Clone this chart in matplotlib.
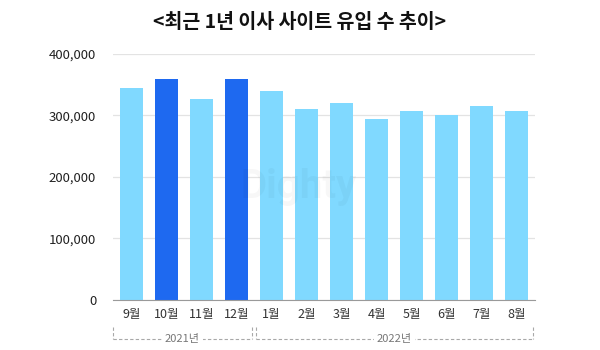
import matplotlib
matplotlib.use("Agg")
import matplotlib.pyplot as plt
from matplotlib.ticker import FuncFormatter

plt.rcParams['font.family'] = ['Noto Sans CJK KR', 'DejaVu Sans']

title = '<최근 1년 이사 사이트 유입 수 추이>'
months = ['9월', '10월', '11월', '12월', '1월', '2월', '3월', '4월', '5월', '6월', '7월', '8월']
visits = [345000, 359000, 327000, 359000, 340000, 310000, 320000, 294000, 307000, 301000, 315000, 307000]
highlight = ['10월', '12월']
years = ['2021년', '2022년']
year_spans = [(0, 3), (4, 11)]
yticks = [0, 100000, 200000, 300000, 400000]

light = '#80d9ff'
dark = '#1e69f0'

fig = plt.figure(figsize=(6, 3.5), dpi=100)
ax = fig.add_axes([0.188, 0.143, 0.704, 0.703])

x = list(range(len(months)))
colors = [dark if m in highlight else light for m in months]
ax.bar(x, visits, width=0.66, color=colors, zorder=2)

ax.set_xlim(-0.53, len(months) - 0.47)
ax.set_ylim(0, 400000)
ax.set_yticks(yticks)
ax.yaxis.set_major_formatter(FuncFormatter(lambda v, p: f'{int(v):,}'))
ax.grid(axis='y', color='#e3e3e3', linewidth=0.9, zorder=0)
for s in ['top', 'right', 'left']:
    ax.spines[s].set_visible(False)
ax.spines['bottom'].set_color('#9a9a9a')
ax.tick_params(axis='y', length=0, labelsize=9.5, labelcolor='#222222', pad=12)
ax.tick_params(axis='x', length=0, labelsize=9, labelcolor='#333333', pad=6)
ax.set_xticks(x)
ax.set_xticklabels(months)

# faint watermark
ax.text(0.44, 0.46, 'Dighty', transform=ax.transAxes, ha='center', va='center',
        fontsize=29, fontweight='bold', color='#000000', alpha=0.03, zorder=3,
        family=['Roboto', 'DejaVu Sans'])

# year brackets under the month labels
trans = ax.get_xaxis_transform()
y_top, y_bot = -0.11, -0.16
for label, (a, b) in zip(years, year_spans):
    x0, x1 = a - 0.53, b + 0.47
    if a > 0:
        x0 = a - 0.45
    if b < len(months) - 1:
        x1 = b + 0.45
    kw = dict(color='#a8a8a8', linewidth=0.8, linestyle=(0, (3, 2)), transform=trans, clip_on=False)
    ax.plot([x0, x0], [y_top, y_bot], **kw)
    ax.plot([x1, x1], [y_top, y_bot], **kw)
    ax.plot([x0, x1], [y_bot, y_bot], **kw)
    ax.text((x0 + x1) / 2, y_bot, label, transform=trans, ha='center', va='center',
            fontsize=8, color='#777777', clip_on=False,
            bbox=dict(facecolor='white', edgecolor='none', pad=2))

fig.text(0.5, 0.935, title, ha='center', va='center', fontsize=14, fontweight='bold', color='#111111')

fig.savefig('out.png', dpi=100)
